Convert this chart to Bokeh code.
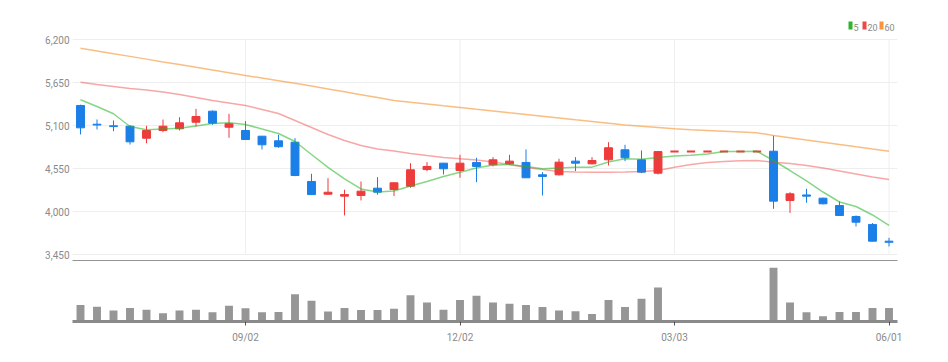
from bokeh.plotting import figure
from bokeh.layouts import column
from bokeh.models import (ColumnDataSource, FixedTicker, NumeralTickFormatter, Range1d,
                          Label, BoxAnnotation)
from bokeh.embed import file_html
from bokeh.resources import INLINE

# ---- data (weekly candles) ----
opens = [5360, 5120, 5100, 5095, 4941, 5040, 5062, 5146, 5287, 5082,
         5040, 4967, 4908, 4890, 4388, 4225, 4200, 4209, 4302, 4285,
         4327, 4540, 4622, 4528, 4631, 4601, 4614, 4631, 4473, 4473,
         4648, 4614, 4665, 4793, 4665, 4494, 4770, 4770, 4770, 4770,
         4770, 4770, 4775, 4145, 4215, 4174, 4080, 3940, 3838, 3624]
highs = [5370, 5181, 5168, 5110, 5100, 5180, 5210, 5317, 5296, 5253,
         5160, 4970, 4985, 4942, 4486, 4430, 4282, 4388, 4443, 4375,
         4622, 4635, 4625, 4729, 4691, 4699, 4729, 4797, 4507, 4678,
         4699, 4699, 4890, 4857, 4784, 4776, 4770, 4770, 4770, 4770,
         4770, 4770, 4976, 4251, 4294, 4180, 4132, 3953, 3855, 3667]
lows = [4989, 5053, 5031, 4860, 4877, 5018, 5040, 5091, 5113, 4947,
        4920, 4797, 4819, 4455, 4215, 4215, 3953, 4145, 4220, 4200,
        4307, 4520, 4477, 4435, 4379, 4580, 4601, 4435, 4208, 4464,
        4520, 4605, 4592, 4648, 4494, 4477, 4770, 4770, 4770, 4770,
        4770, 4770, 4038, 3985, 4115, 4095, 3950, 3812, 3620, 3556]
closes = [5074, 5110, 5090, 4895, 5040, 5095, 5138, 5219, 5133, 5126,
          4925, 4857, 4832, 4464, 4220, 4250, 4220, 4264, 4251, 4371,
          4537, 4580, 4550, 4622, 4580, 4665, 4648, 4435, 4452, 4635,
          4622, 4656, 4819, 4690, 4507, 4770, 4770, 4770, 4770, 4770,
          4770, 4770, 4136, 4230, 4200, 4102, 3953, 3867, 3624, 3610]
volumes = [250, 225, 165, 205, 180, 125, 165, 180, 140, 240,
           200, 140, 145, 415, 315, 150, 205, 175, 175, 195,
           400, 290, 180, 325, 390, 290, 270, 250, 220, 165,
           155, 115, 325, 220, 345, 515, 0, 0, 0, 0,
           0, 0, 815, 290, 140, 80, 145, 145, 205, 205]
ma5 = [5433, 5347, 5254, 5091, 5049, 5059, 5069, 5098, 5129, 5138,
       5117, 5059, 5002, 4899, 4733, 4567, 4420, 4292, 4253, 4266,
       4330, 4388, 4452, 4507, 4560, 4599, 4605, 4580, 4550, 4560,
       4571, 4571, 4637, 4678, 4672, 4695, 4714, 4724, 4739, 4770,
       4772, 4774, 4656, 4528, 4394, 4253, 4125, 4068, 3959, 3825]
ma20 = [5658, 5628, 5603, 5577, 5558, 5532, 5500, 5462, 5424, 5392,
        5360, 5309, 5257, 5168, 5078, 4989, 4912, 4848, 4803, 4778,
        4746, 4720, 4695, 4678, 4663, 4637, 4605, 4567, 4541, 4516,
        4509, 4507, 4507, 4509, 4516, 4528, 4571, 4605, 4631, 4643,
        4652, 4656, 4635, 4618, 4592, 4560, 4522, 4484, 4445, 4413]
ma60 = [6093, 6058, 6022, 5988, 5953, 5917, 5883, 5848, 5814, 5778,
        5743, 5710, 5677, 5644, 5609, 5572, 5535, 5498, 5461, 5424,
        5401, 5379, 5356, 5334, 5311, 5289, 5266, 5244, 5222, 5200,
        5177, 5155, 5133, 5110, 5094, 5078, 5062, 5051, 5041, 5031,
        5021, 5011, 4976, 4948, 4918, 4890, 4861, 4831, 4802, 4775]
tick_pos = [10, 23, 36, 49]
tick_labels = ["09/02", "12/02", "03/03", "06/01"]
y_ticks = [3450, 4000, 4550, 5100, 5650, 6200]
legend_labels = ["5", "20", "60"]

RED = "#ee3b3b"
BLUE = "#1b7fe8"
FONT = "Roboto"
GRID = "#eeeeee"
TXT = "#8a8a8a"

n = len(closes)
xs = list(range(n))
flat = [h == l for h, l in zip(highs, lows)]
idx = [i for i in xs if not flat[i]]
fidx = [i for i in xs if flat[i]]

cs = ColumnDataSource(dict(
    x=[xs[i] for i in idx],
    h=[highs[i] for i in idx],
    l=[lows[i] for i in idx],
    top=[max(opens[i], closes[i]) for i in idx],
    bot=[min(opens[i], closes[i]) for i in idx],
    color=[RED if closes[i] > opens[i] else BLUE for i in idx],
))
fs = ColumnDataSource(dict(
    x0=[xs[i] - 0.25 for i in fidx],
    x1=[xs[i] + 0.25 for i in fidx],
    y=[closes[i] for i in fidx],
))

BW = 0.48
x_range = Range1d(-0.485, n - 1 + 0.515)

p = figure(frame_width=825, frame_height=246, x_range=x_range,
           y_range=Range1d(3364, 6511), output_backend="svg",
           toolbar_location=None, min_border_left=72, min_border_top=15,
           min_border_right=20, min_border_bottom=0)
p.outline_line_color = None
p.background_fill_color = "white"
p.xgrid.grid_line_color = None
p.ygrid.grid_line_color = GRID
p.ygrid.ticker = FixedTicker(ticks=y_ticks)

# vertical grid lines only within the price grid band
p.segment(x0=tick_pos, x1=tick_pos, y0=[y_ticks[0]] * len(tick_pos),
          y1=[y_ticks[-1]] * len(tick_pos), line_color=GRID, line_width=1)

p.segment(x0="x", y0="h", x1="x", y1="l", color="color", line_width=1, source=cs)
p.vbar(x="x", width=BW, top="top", bottom="bot", fill_color="color",
       line_color="color", line_width=1, source=cs)
p.segment(x0="x0", y0="y", x1="x1", y1="y", color=RED, line_width=2, source=fs)

p.line(xs, ma60, line_color="#f5922f", line_alpha=0.6, line_width=1.5)
p.line(xs, ma20, line_color="#f03c3c", line_alpha=0.45, line_width=1.5)
p.line(xs, ma5, line_color="#22b422", line_alpha=0.55, line_width=1.5)

p.yaxis.ticker = FixedTicker(ticks=y_ticks)
p.yaxis.formatter = NumeralTickFormatter(format="0,0")
p.yaxis.axis_line_color = None
p.yaxis.major_tick_line_color = None
p.yaxis.minor_tick_line_color = None
p.yaxis.major_tick_out = 0
p.yaxis.major_label_standoff = 3
p.yaxis.major_label_text_font = FONT
p.yaxis.major_label_text_font_size = "10px"
p.yaxis.major_label_text_color = TXT

p.xaxis.ticker = FixedTicker(ticks=[])
p.xaxis.axis_line_color = "#2a2a2a"
p.xaxis.axis_line_width = 2
p.xaxis.major_tick_line_color = None
p.xaxis.minor_tick_line_color = None
p.xaxis.major_tick_out = 0
p.xaxis.major_tick_in = 0
p.xaxis.major_label_standoff = 0

# legend (top right)
leg_colors = ["#2db52d", "#f04646", "#f7943c"]
leg_x = [776, 790, 807]
for lx, col, lab in zip(leg_x, leg_colors, legend_labels):
    p.add_layout(BoxAnnotation(left=lx, right=lx + 4, bottom=232, top=240,
                               left_units="screen", right_units="screen",
                               top_units="screen", bottom_units="screen",
                               fill_color=col, fill_alpha=1, line_color=None))
    p.add_layout(Label(x=lx + 5, y=231, x_units="screen", y_units="screen",
                       text=lab, text_font=FONT, text_font_size="9px",
                       text_color=TXT))

# ---- volume panel ----
v = figure(frame_width=825, frame_height=60, x_range=x_range,
           y_range=Range1d(0, 910), output_backend="svg",
           toolbar_location=None, min_border_left=72, min_border_top=0,
           min_border_right=20, min_border_bottom=2)
v.outline_line_color = None
v.vbar(x=xs, width=BW, top=volumes, bottom=0, fill_color="#969696",
       line_color=None)
v.yaxis.visible = False
v.xgrid.grid_line_color = None
v.ygrid.grid_line_color = None
v.xaxis.ticker = FixedTicker(ticks=tick_pos)
v.xaxis.major_label_overrides = {t: s for t, s in zip(tick_pos, tick_labels)}
v.xaxis.axis_line_color = "#8a8a8a"
v.xaxis.axis_line_width = 3
v.xaxis.major_tick_line_color = "#555555"
v.xaxis.major_tick_in = 0
v.xaxis.major_tick_out = 4
v.xaxis.minor_tick_line_color = None
v.xaxis.major_label_text_font = FONT
v.xaxis.major_label_text_font_size = "10px"
v.xaxis.major_label_text_color = TXT
v.xaxis.major_label_standoff = 6

layout = column(p, v, spacing=0)
open("out.html", "w").write(file_html(layout, INLINE))
